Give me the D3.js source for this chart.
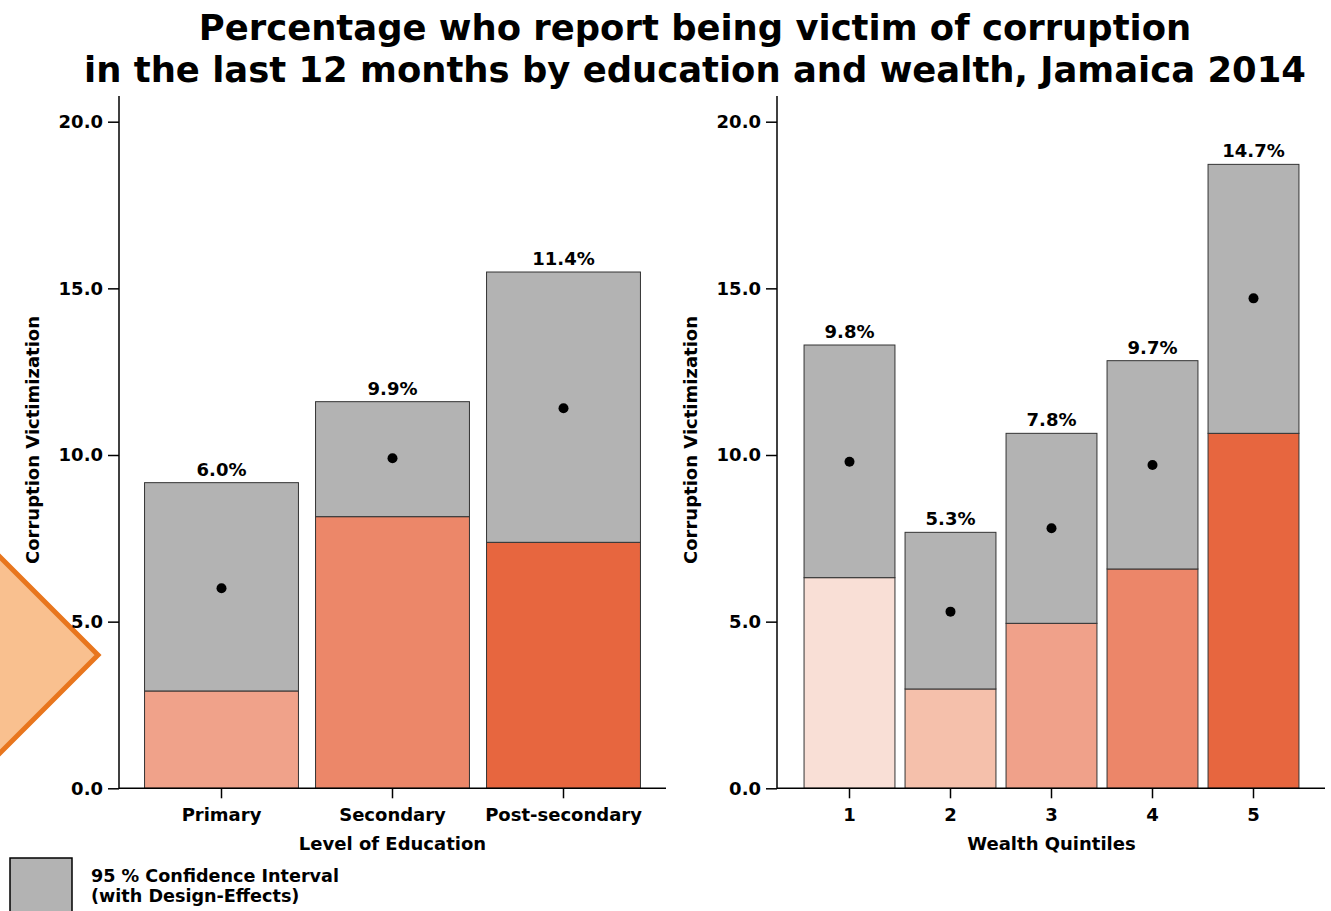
<!DOCTYPE html>
<html>
<head>
<meta charset="utf-8">
<script src="https://cdn.jsdelivr.net/npm/d3@7"></script>
<style>
  html, body { margin: 0; padding: 0; background: #fff; }
  svg { display: block; font-family: "DejaVu Sans", "Liberation Sans", Arial, sans-serif; }
</style>
</head>
<body>
<svg id="chart" width="1331" height="911"></svg>
<script>
// ---------- data ----------
const titleLines = ["Percentage who report being victim of corruption",
                    "in the last 12 months by education and wealth, Jamaica 2014"];
const yTicks = [0, 5, 10, 15, 20];

const eduCategories = ["Primary", "Secondary", "Post-secondary"];
const eduEstimate   = [6.0, 9.9, 11.4];
const eduLower      = [2.92, 8.15, 7.38];
const eduUpper      = [9.17, 11.60, 15.49];
const eduColors     = ["#f0a28a", "#ec8769", "#e7663f"];

const wealthCategories = ["1", "2", "3", "4", "5"];
const wealthEstimate   = [9.8, 5.3, 7.8, 9.7, 14.7];
const wealthLower      = [6.32, 2.98, 4.95, 6.58, 10.65];
const wealthUpper      = [13.30, 7.68, 10.65, 12.83, 18.72];
const wealthColors     = ["#f9dfd6", "#f5c0ab", "#f0a18a", "#ec8669", "#e7663f"];

const yLabel = "Corruption Victimization";
const legendLines = ["95 % Confidence Interval", "(with Design-Effects)"];

// ---------- drawing ----------
const FONT = "DejaVu Sans, Liberation Sans, Arial, sans-serif";
const svg = d3.select("#chart");
const gray = "#b3b3b3";

// decorative diamond at left edge
svg.append("polygon")
  .attr("points", [[0, 557], [98, 655], [0, 753], [-98, 655]].map(p => p.join(",")).join(" "))
  .attr("fill", "#f9c08f")
  .attr("stroke", "#e8761e")
  .attr("stroke-width", 5);

// title
svg.append("g").selectAll("text").data(titleLines).join("text")
  .attr("x", 695)
  .attr("y", (d, i) => 40 + i * 42)
  .attr("text-anchor", "middle")
  .attr("font-family", FONT)
  .attr("font-size", 35.4)
  .attr("font-weight", "bold")
  .attr("fill", "#000")
  .text(d => d);

const y = d3.scaleLinear().domain([0, 20]).range([788.3, 121.7]);

function panel(opts) {
  const { axisX, axisEnd, bandRange, cats, est, lo, hi, colors, xTitle, yLabelX } = opts;
  const g = svg.append("g");
  const x = d3.scaleBand().domain(cats).range(bandRange).paddingInner(0.1).paddingOuter(0.05);

  const data = cats.map((c, i) => ({ c, est: est[i], lo: lo[i], hi: hi[i], color: colors[i] }));

  g.selectAll("rect.base").data(data).join("rect")
    .attr("class", "base")
    .attr("x", d => x(d.c))
    .attr("width", x.bandwidth())
    .attr("y", d => y(d.lo))
    .attr("height", d => y(0) - y(d.lo))
    .attr("fill", d => d.color)
    .attr("stroke", "#333")
    .attr("stroke-width", 1);

  g.selectAll("rect.ci").data(data).join("rect")
    .attr("class", "ci")
    .attr("x", d => x(d.c))
    .attr("width", x.bandwidth())
    .attr("y", d => y(d.hi))
    .attr("height", d => y(d.lo) - y(d.hi))
    .attr("fill", gray)
    .attr("stroke", "#333")
    .attr("stroke-width", 1);

  g.selectAll("circle").data(data).join("circle")
    .attr("cx", d => x(d.c) + x.bandwidth() / 2)
    .attr("cy", d => y(d.est))
    .attr("r", 5)
    .attr("fill", "#000");

  g.selectAll("text.val").data(data).join("text")
    .attr("class", "val")
    .attr("x", d => x(d.c) + x.bandwidth() / 2)
    .attr("y", d => y(d.hi) - 7)
    .attr("text-anchor", "middle")
    .attr("font-family", FONT)
    .attr("font-size", 18)
    .attr("font-weight", "bold")
    .text(d => d3.format(".1f")(d.est) + "%");

  const yAxis = d3.axisLeft(y).tickValues(yTicks).tickFormat(d3.format(".1f")).tickSize(11).tickPadding(5);
  const ya = g.append("g").attr("transform", `translate(${axisX},0)`).call(yAxis);
  ya.select(".domain").remove();
  ya.selectAll("line").attr("stroke", "#000").attr("stroke-width", 1.5);
  ya.selectAll("text").attr("font-size", 18).attr("font-weight", "bold").attr("fill", "#000")
    .attr("font-family", FONT);
  g.append("line").attr("x1", axisX).attr("x2", axisX).attr("y1", 96).attr("y2", y(0))
    .attr("stroke", "#000").attr("stroke-width", 1.5);

  const xAxis = d3.axisBottom(x).tickSize(10).tickPadding(10);
  const xa = g.append("g").attr("transform", `translate(0,${y(0)})`).call(xAxis);
  xa.select(".domain").remove();
  xa.selectAll("line").attr("stroke", "#000").attr("stroke-width", 1.5);
  xa.selectAll("text").attr("font-size", 18).attr("font-weight", "bold").attr("fill", "#000")
    .attr("font-family", FONT);
  g.append("line").attr("x1", axisX).attr("x2", axisEnd).attr("y1", y(0)).attr("y2", y(0))
    .attr("stroke", "#000").attr("stroke-width", 1.5);

  g.append("text")
    .attr("x", (bandRange[0] + bandRange[1]) / 2)
    .attr("y", 850)
    .attr("text-anchor", "middle")
    .attr("font-family", FONT)
    .attr("font-size", 18)
    .attr("font-weight", "bold")
    .text(xTitle);

  g.append("text")
    .attr("transform", `translate(${yLabelX},440) rotate(-90)`)
    .attr("text-anchor", "middle")
    .attr("font-family", FONT)
    .attr("font-size", 18)
    .attr("font-weight", "bold")
    .text(yLabel);
}

panel({
  axisX: 119, axisEnd: 666, bandRange: [136, 649],
  cats: eduCategories, est: eduEstimate, lo: eduLower, hi: eduUpper, colors: eduColors,
  xTitle: "Level of Education", yLabelX: 39
});

panel({
  axisX: 777, axisEnd: 1325, bandRange: [799, 1304],
  cats: wealthCategories, est: wealthEstimate, lo: wealthLower, hi: wealthUpper, colors: wealthColors,
  xTitle: "Wealth Quintiles", yLabelX: 697
});

// legend
svg.append("rect")
  .attr("x", 10).attr("y", 858).attr("width", 62).attr("height", 70)
  .attr("fill", gray).attr("stroke", "#000").attr("stroke-width", 1.5);
svg.append("g").selectAll("text").data(legendLines).join("text")
  .attr("x", 91)
  .attr("y", (d, i) => 882 + i * 20)
  .attr("font-family", FONT)
  .attr("font-size", 17.6)
  .attr("font-weight", "bold")
  .text(d => d);
</script>
</body>
</html>
